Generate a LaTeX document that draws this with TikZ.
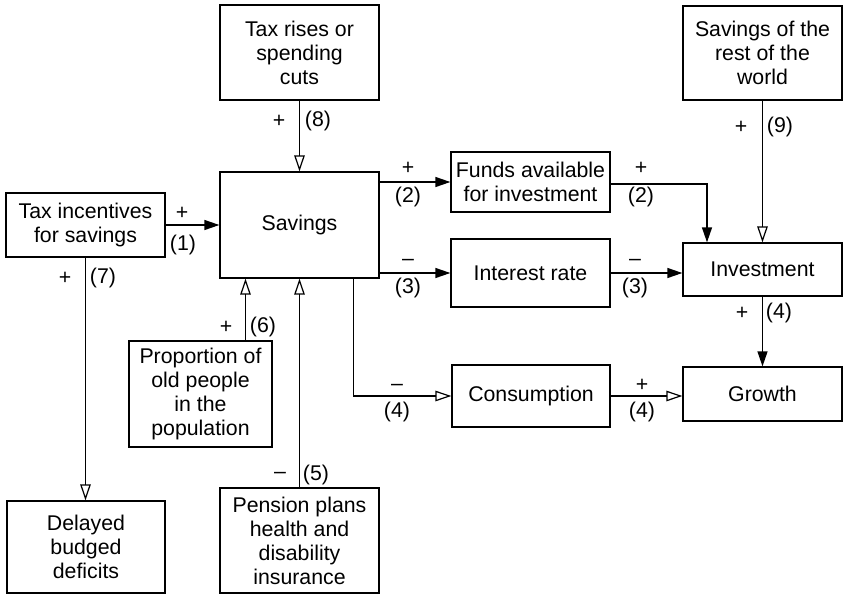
\documentclass[tikz,border=0pt]{standalone}
\usepackage{fontspec}
\setmainfont{Liberation Sans}
\usetikzlibrary{arrows.meta}
\begin{document}
\begin{tikzpicture}[x=1pt,y=-1pt,
  font=\fontsize{21.3}{24}\selectfont,
  box/.style={draw, line width=1.3pt, inner sep=0pt, align=center},
  lab/.style={inner sep=0pt},
  conn/.style={line width=1.3pt},
  full/.style={conn, -{Triangle[length=15pt,width=10pt]}},
  hollow/.style={conn, -{Triangle[open,length=16pt,width=10.5pt,line width=1.2pt]}}]
\useasboundingbox (0,0) rectangle (844,595);
% boxes
\node[box, minimum width=159pt, minimum height=95pt] (taxrise) at (299.5,52.5) {Tax rises or\\spending\\cuts};
\node[box, minimum width=159pt, minimum height=94pt] (rest) at (762.5,53) {Savings of the\\rest of the\\world};
\node[box, minimum width=159pt, minimum height=64pt] (taxinc) at (85.5,225) {Tax incentives\\for savings};
\node[box, minimum width=159pt, minimum height=106pt] (savings) at (299.5,225) {Savings};
\node[box, minimum width=159pt, minimum height=60pt] (funds) at (530.5,182) {Funds available\\for investment};
\node[box, minimum width=159pt, minimum height=68pt] (interest) at (530.5,273) {Interest rate};
\node[box, minimum width=159pt, minimum height=53pt] (invest) at (762.5,269.5) {Investment};
\node[box, minimum width=158pt, minimum height=62pt] (consump) at (531,396) {Consumption};
\node[box, minimum width=159pt, minimum height=54pt] (growth) at (762.5,394) {Growth};
\node[box, minimum width=143pt, minimum height=106pt] (proportion) at (200.5,394) {Proportion of\\old people\\in the\\population};
\node[box, minimum width=158pt, minimum height=92pt] (delayed) at (86,547) {Delayed\\budged\\deficits};
\node[box, minimum width=159pt, minimum height=105pt] (pension) at (299.5,540.5) {Pension plans\\health and\\disability\\insurance};
% helper coordinates
\coordinate (s6) at ([xshift=-54pt]savings.south);
\coordinate (sc) at ([xshift=-26pt]savings.south east);
\coordinate (fi) at ([xshift=-55.5pt]invest.north);
% connectors
\draw[hollow] (taxrise) -- (savings);
\draw[full] (taxinc) -- (savings);
\draw[full] (savings.east |- funds) -- (funds);
\draw[full] (savings.east |- interest) -- (interest);
\draw[full] ([yshift=-2pt]funds.east) -| (fi);
\draw[full] (interest) -- (invest.west |- interest);
\draw[hollow] (rest) -- (invest);
\draw[full] (invest) -- (growth);
\draw[hollow] (sc) |- (consump.west);
\draw[hollow] (consump) -- (growth.west |- consump);
\draw[hollow] (proportion.north -| s6) -- (s6);
\draw[hollow] (pension) -- (savings);
\draw[hollow] (taxinc.south) -- (taxinc.south |- delayed.north);
% labels
\node[lab] (l8a) at (279,121) {+};
\node[lab] (l8b) at (318,121) {(8)};
\node[lab] (l2a) at (408,168) {+};
\node[lab] (l2b) at (408,197) {(2)};
\node[lab] (l3a) at (408,262) {–};
\node[lab] (l3b) at (408,288) {(3)};
\node[lab] (l2c) at (641,168) {+};
\node[lab] (l2d) at (641,197) {(2)};
\node[lab] (l3c) at (635,262) {–};
\node[lab] (l3d) at (635,288) {(3)};
\node[lab] (l1a) at (182,213) {+};
\node[lab] (l1b) at (183,245) {(1)};
\node[lab] (l7a) at (65,278) {+};
\node[lab] (l7b) at (103,278) {(7)};
\node[lab] (l6a) at (226,327) {+};
\node[lab] (l6b) at (263,327) {(6)};
\node[lab] (l5a) at (280,475) {–};
\node[lab] (l5b) at (316,475) {(5)};
\node[lab] (l9a) at (741,127) {+};
\node[lab] (l9b) at (780,127) {(9)};
\node[lab] (l4a) at (742,313) {+};
\node[lab] (l4b) at (779,313) {(4)};
\node[lab] (l4c) at (397,387) {–};
\node[lab] (l4d) at (397,412) {(4)};
\node[lab] (l4e) at (642,385) {+};
\node[lab] (l4f) at (642,412) {(4)};
\end{tikzpicture}
\end{document}
